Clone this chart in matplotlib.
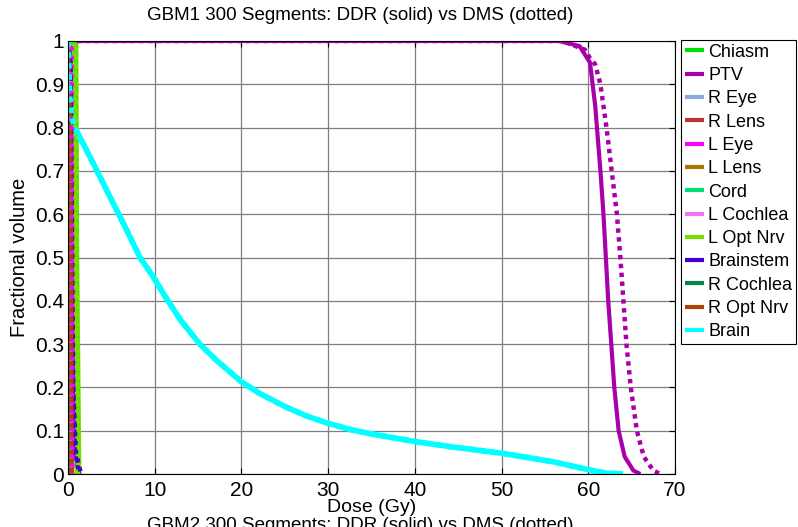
import matplotlib
matplotlib.use("Agg")
import matplotlib.pyplot as plt

plt.rcParams["font.family"] = ["Liberation Sans", "DejaVu Sans"]

#-------------------------------------------------------------------------------
# DVH curves: dose (Gy) and fractional volume

organs = ["Chiasm", "PTV", "R Eye", "R Lens", "L Eye", "L Lens", "Cord",
          "L Cochlea", "L Opt Nrv", "Brainstem", "R Cochlea", "R Opt Nrv", "Brain"]

colors = ["#00dd00", "#aa00aa", "#88aadd", "#bb3333", "#ff00ff", "#aa7700",
          "#00dd77", "#ee77ee", "#77dd00", "#4400cc", "#008844", "#aa4400", "#00ffff"]

brain_dose = [0, 0.2, 0.42, 0.8, 2.92, 4.84, 6.77, 8.3, 9.84, 11.2, 13.0, 15.2,
              17.15, 20.0, 22.1, 25.1, 27.5, 30.0, 32.5, 34.6, 40.0, 44.1, 50.0,
              56.0, 60.0, 62.0, 64.0]
brain_vol = [1, 0.87, 0.826, 0.80, 0.717, 0.64, 0.563, 0.50, 0.455, 0.41, 0.355,
             0.30, 0.262, 0.213, 0.186, 0.155, 0.134, 0.117, 0.103, 0.094, 0.075,
             0.063, 0.048, 0.028, 0.010, 0.002, 0]

# DDR (solid)
ddr_dose = {
  "Chiasm":    [0, 0.8, 0.9, 1.1],
  "PTV":       [0, 56.7, 59.0, 60.2, 60.8, 61.4, 61.75, 62.3, 63.0, 63.5, 64.2, 65.2, 66.0],
  "R Eye":     [0, 0.1, 0.2],
  "R Lens":    [0, 0.15, 0.3],
  "L Eye":     [0, 0.35, 0.45],
  "L Lens":    [0, 0.2, 0.35],
  "Cord":      [0, 0.05, 0.15],
  "L Cochlea": [0, 0.1, 0.2],
  "L Opt Nrv": [0, 0.8, 0.9, 1.15],
  "Brainstem": [0, 0.25, 0.5, 0.8, 1.3],
  "R Cochlea": [0, 0.05, 0.1],
  "R Opt Nrv": [0, 0.05, 0.2, 0.3, 0.35],
  "Brain":     brain_dose,
}
ddr_vol = {
  "Chiasm":    [1, 1, 0.5, 0],
  "PTV":       [1, 1, 0.988, 0.95, 0.85, 0.70, 0.60, 0.40, 0.20, 0.10, 0.04, 0.008, 0],
  "R Eye":     [1, 1, 0],
  "R Lens":    [1, 0.9, 0],
  "L Eye":     [1, 1, 0],
  "L Lens":    [1, 0.8, 0],
  "Cord":      [1, 1, 0],
  "L Cochlea": [1, 0.9, 0],
  "L Opt Nrv": [1, 1, 0.5, 0],
  "Brainstem": [1, 0.95, 0.3, 0.05, 0],
  "R Cochlea": [1, 0.5, 0],
  "R Opt Nrv": [1, 0.9, 0.82, 0.5, 0],
  "Brain":     brain_vol,
}

# DMS (dotted)
dms_dose = {
  "Chiasm":    [0, 0.85, 0.95, 1.15],
  "PTV":       [0, 57.0, 59.6, 60.2, 60.8, 61.4, 62.1, 62.7, 63.3, 63.7, 64.05, 64.4,
                64.9, 65.6, 66.4, 67.5, 68.3],
  "R Eye":     [0, 0.15, 0.25],
  "R Lens":    [0, 0.2, 0.35],
  "L Eye":     [0, 0.45, 0.5],
  "L Lens":    [0, 0.25, 0.4],
  "Cord":      [0, 0.1, 0.2],
  "L Cochlea": [0, 0.15, 0.25],
  "L Opt Nrv": [0, 0.8, 0.9, 1.15],
  "Brainstem": [0, 0.3, 0.6, 0.9, 1.5],
  "R Cochlea": [0, 0.05, 0.12],
  "R Opt Nrv": [0, 0.1, 0.25, 0.35, 0.4],
  "Brain":     brain_dose,
}
dms_vol = {
  "Chiasm":    [1, 1, 0.5, 0],
  "PTV":       [1, 1, 0.98, 0.96, 0.946, 0.90, 0.80, 0.70, 0.60, 0.50, 0.40, 0.30,
                0.20, 0.10, 0.04, 0.008, 0],
  "R Eye":     [1, 1, 0],
  "R Lens":    [1, 0.9, 0],
  "L Eye":     [1, 1, 0],
  "L Lens":    [1, 0.8, 0],
  "Cord":      [1, 1, 0],
  "L Cochlea": [1, 0.9, 0],
  "L Opt Nrv": [1, 1, 0.5, 0],
  "Brainstem": [1, 0.95, 0.2, 0.05, 0],
  "R Cochlea": [1, 0.5, 0],
  "R Opt Nrv": [1, 0.9, 0.82, 0.5, 0],
  "Brain":     brain_vol,
}

x_ticks = list(range(0, 71, 10))
y_ticks = [0, 0.1, 0.2, 0.3, 0.4, 0.5, 0.6, 0.7, 0.8, 0.9, 1]
y_tick_labels = ["0", "0.1", "0.2", "0.3", "0.4", "0.5", "0.6", "0.7", "0.8", "0.9", "1"]

#-------------------------------------------------------------------------------

def main():
  fig = plt.figure(figsize=(7.98, 5.27), dpi=100)
  ax = fig.add_axes([68/798, 1-474/527, (675-68)/798, (474-41)/527])

  # solid (DDR) first, then dotted (DMS)
  for name, col in zip(organs, colors):
    lw = {"Brain": 4, "L Opt Nrv": 5}.get(name, 3)
    ax.plot(ddr_dose[name], ddr_vol[name], color=col, lw=lw, label=name,
            solid_capstyle="butt")
  for name, col in zip(organs, colors):
    lw = 4 if name == "Brain" else 3.2
    ax.plot(dms_dose[name], dms_vol[name], color=col, lw=lw, dashes=(1, 1),
            dash_capstyle="butt")

  ax.set_xlim(0, 70)
  ax.set_ylim(0, 1)
  ax.set_xticks(x_ticks)
  ax.set_yticks(y_ticks)
  ax.set_yticklabels(y_tick_labels)
  ax.tick_params(direction="in", top=True, right=True, length=4, width=0.8,
                 labelsize=15)
  ax.tick_params(axis="x", pad=5)
  ax.tick_params(axis="y", pad=3)
  ax.grid(True, color="#7f7f7f", lw=0.9)
  ax.set_axisbelow(True)
  for sp in ax.spines.values():
    sp.set_linewidth(0.8)

  ax.set_xlabel("Dose (Gy)", fontsize=14, labelpad=-1)
  ax.set_ylabel("Fractional volume", fontsize=14.5, labelpad=4)

  fig.text(360/798, 1-15/527, "GBM1 300 Segments: DDR (solid) vs DMS (dotted)",
           ha="center", va="center", fontsize=13.5)
  # title of the next panel, cut off by the figure edge
  fig.text(360/798, 1-517/527, "GBM2 300 Segments: DDR (solid) vs DMS (dotted)",
           ha="center", va="top", fontsize=13.5)

  leg = fig.legend(loc="upper left", bbox_to_anchor=(681/798, 1-40/527),
                   fontsize=13, handlelength=1.1, handletextpad=0.2,
                   labelspacing=0.35, borderpad=0.2, borderaxespad=0,
                   fancybox=False, edgecolor="black", framealpha=1)
  leg.get_frame().set_linewidth(0.8)
  for line in leg.get_lines():
    line.set_linewidth(3)

  fig.savefig("out.png", dpi=100)
  plt.close(fig)

if __name__ == "__main__":
  main()
